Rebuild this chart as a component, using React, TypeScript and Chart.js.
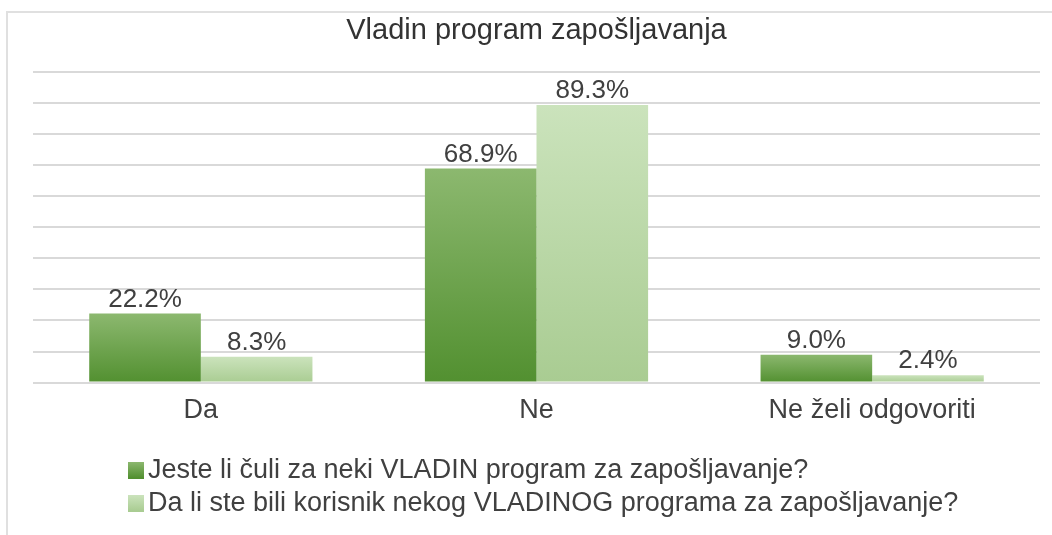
import React, { useEffect, useRef } from 'react';
import { Chart, registerables } from 'chart.js';

Chart.register(...registerables);

const chartTitle = 'Vladin program zapošljavanja';
const categories = ['Da', 'Ne', 'Ne želi odgovoriti'];
const seriesLabels = [
  'Jeste li čuli za neki VLADIN program za zapošljavanje?',
  'Da li ste bili korisnik nekog VLADINOG programa za zapošljavanje?',
];
const heardValues = [22.2, 68.9, 9.0];
const userValues = [8.3, 89.3, 2.4];
const yMin = 0;
const yMax = 100;
const yStep = 10;

const FONT = '"Liberation Sans", Arial, sans-serif';
const TEXT = '#404040';

const darkColors = ['#8cb86f', '#529030'];
const lightColors = ['#cbe3bc', '#a9cc92'];

function barGradient(top: string, bottom: string) {
  return (ctx: any) => {
    const chart = ctx.chart;
    const ys = chart.scales && chart.scales.y;
    if (!ys || ctx.type !== 'data') return bottom;
    const v = ctx.raw as number;
    const y0 = ys.getPixelForValue(0);
    const y1 = ys.getPixelForValue(v);
    if (!isFinite(y0) || !isFinite(y1) || y0 === y1) return bottom;
    const g = chart.ctx.createLinearGradient(0, y1, 0, y0);
    g.addColorStop(0, top);
    g.addColorStop(1, bottom);
    return g;
  };
}

const valueLabels = {
  id: 'valueLabels',
  afterDatasetsDraw(chart: any) {
    const { ctx } = chart;
    ctx.save();
    ctx.font = `26px ${FONT}`;
    ctx.fillStyle = TEXT;
    ctx.textAlign = 'center';
    ctx.textBaseline = 'middle';
    chart.data.datasets.forEach((ds: any, i: number) => {
      const meta = chart.getDatasetMeta(i);
      meta.data.forEach((bar: any, j: number) => {
        const v = ds.data[j] as number;
        ctx.fillText(v.toFixed(1) + '%', bar.x, bar.y - 14);
      });
    });
    ctx.restore();
  },
};

const customLegend = {
  id: 'customLegend',
  afterDraw(chart: any) {
    const { ctx } = chart;
    const left = 128;
    const rowsY = [470, 503];
    const palettes = [darkColors, lightColors];
    ctx.save();
    ctx.font = `27px ${FONT}`;
    ctx.textBaseline = 'middle';
    ctx.textAlign = 'left';
    chart.data.datasets.forEach((ds: any, i: number) => {
      const y = rowsY[i];
      const g = ctx.createLinearGradient(0, y - 8, 0, y + 8);
      g.addColorStop(0, palettes[i][0]);
      g.addColorStop(1, palettes[i][1]);
      ctx.fillStyle = g;
      ctx.fillRect(left, y - 8, 16, 17);
      ctx.fillStyle = TEXT;
      ctx.fillText(ds.label, left + 20, y + 1);
    });
    ctx.restore();
  },
};

export default function App() {
  const canvasRef = useRef<HTMLCanvasElement | null>(null);

  useEffect(() => {
    if (!canvasRef.current) return;
    const chart = new Chart(canvasRef.current, {
      type: 'bar',
      data: {
        labels: categories,
        datasets: [
          {
            label: seriesLabels[0],
            data: heardValues,
            backgroundColor: barGradient(darkColors[0], darkColors[1]) as any,
            borderWidth: 0,
            barPercentage: 1,
            categoryPercentage: 0.665,
          },
          {
            label: seriesLabels[1],
            data: userValues,
            backgroundColor: barGradient(lightColors[0], lightColors[1]) as any,
            borderWidth: 0,
            barPercentage: 1,
            categoryPercentage: 0.665,
          },
        ],
      },
      options: {
        animation: false,
        responsive: false,
        maintainAspectRatio: false,
        layout: { padding: { left: 33, right: 12, top: 0, bottom: 96 } },
        plugins: {
          legend: { display: false },
          tooltip: { enabled: false },
          title: {
            display: true,
            text: chartTitle,
            color: '#333333',
            font: { family: FONT, size: 29, weight: 'normal' as any },
            padding: { top: 14, bottom: 23 },
          },
        },
        scales: {
          x: {
            grid: { display: false, drawTicks: false },
            border: { display: false },
            ticks: {
              color: TEXT,
              font: { family: FONT, size: 27 },
              padding: 12,
              maxRotation: 0,
            },
          },
          y: {
            min: yMin,
            max: yMax,
            ticks: { display: false, stepSize: yStep },
            grid: { color: '#d9d9d9', lineWidth: 2, drawTicks: false },
            border: { display: false },
          },
        },
      },
      plugins: [valueLabels, customLegend],
    });
    return () => chart.destroy();
  }, []);

  return (
    <div
      style={{
        position: 'fixed',
        left: 0,
        top: 0,
        width: 1052,
        height: 535,
        background: '#ffffff',
        overflow: 'hidden',
      }}
    >
      <div
        style={{
          position: 'absolute',
          left: 6,
          top: 11,
          width: 1200,
          height: 700,
          border: '2px solid #e0e0e0',
          boxSizing: 'border-box',
        }}
      />
      <canvas
        ref={canvasRef}
        width={1052}
        height={535}
        style={{ position: 'absolute', left: 0, top: 0 }}
      />
    </div>
  );
}
